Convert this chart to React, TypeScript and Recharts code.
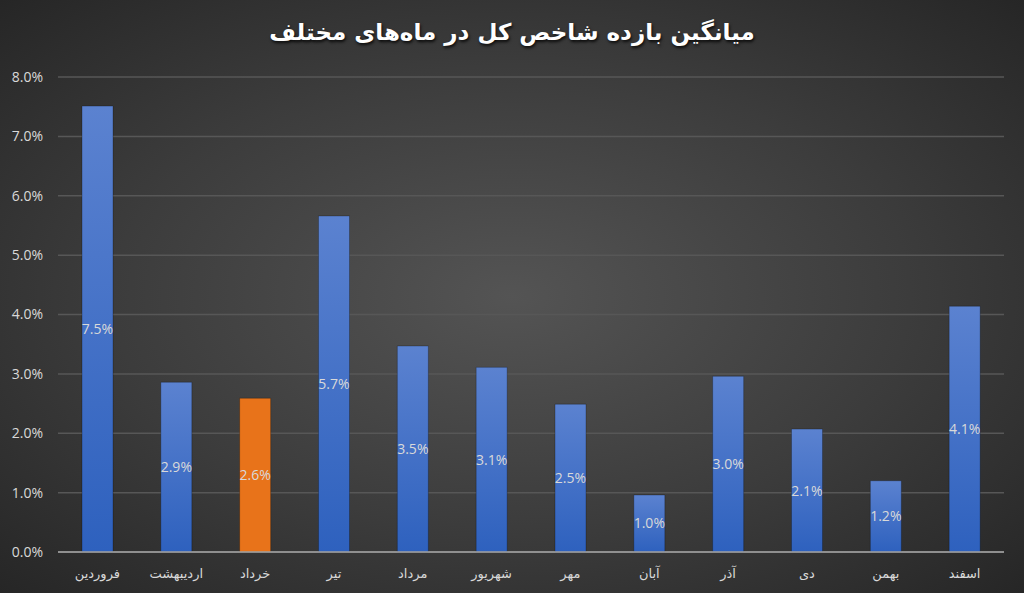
import { BarChart, Bar, XAxis, YAxis, CartesianGrid, LabelList, Cell } from 'recharts';

// ماه‌های سال و میانگین بازده شاخص کل
const months = [
  'فروردین', 'اردیبهشت', 'خرداد', 'تیر', 'مرداد', 'شهریور',
  'مهر', 'آبان', 'آذر', 'دی', 'بهمن', 'اسفند',
];
const returns = [0.0751, 0.0286, 0.0259, 0.0566, 0.0347, 0.0311, 0.0249, 0.0096, 0.0296, 0.0207, 0.012, 0.0414];
const yTicks = [0, 0.01, 0.02, 0.03, 0.04, 0.05, 0.06, 0.07, 0.08];
const highlightIndex = 2;

const data = months.map((month, i) => ({ month, value: returns[i] }));

const pct = (v: number) => `${(v * 100).toFixed(1)}%`;

export default function App() {
  return (
    <div
      style={{
        position: 'absolute',
        left: 0,
        top: 0,
        width: 1024,
        height: 593,
        background: 'radial-gradient(ellipse at 50% 50%, #545454 0%, #3c3c3c 55%, #262626 100%)',
        overflow: 'hidden',
      }}
    >
      <div
        dir="rtl"
        style={{
          position: 'absolute',
          top: 19,
          left: 0,
          width: 1024,
          textAlign: 'center',
          fontFamily: '"DejaVu Sans", sans-serif',
          fontWeight: 'bold',
          fontSize: 23,
          color: '#ffffff',
          textShadow: '1px 2px 3px rgba(0,0,0,0.8)',
        }}
      >
        میانگین بازده شاخص کل در ماه‌های مختلف
      </div>
      <BarChart
        width={1024}
        height={593}
        data={data}
        margin={{ top: 77, right: 20, left: 0, bottom: 0 }}
        barSize={31}
      >
        <defs>
          <linearGradient id="blueFill" x1="0" y1="0" x2="0" y2="1">
            <stop offset="0%" stopColor="#5b82d0" />
            <stop offset="100%" stopColor="#2e61be" />
          </linearGradient>
        </defs>
        <CartesianGrid vertical={false} stroke="#575757" strokeWidth={1.5} />
        <XAxis
          dataKey="month"
          height={41}
          tickLine={false}
          axisLine={{ stroke: '#a6a6a6', strokeWidth: 1.5 }}
          tickMargin={11}
          interval={0}
          tick={{ fill: '#d9d9d9', fontSize: 13, fontFamily: '"DejaVu Sans", sans-serif' }}
        />
        <YAxis
          width={58}
          domain={[0, 0.08]}
          ticks={yTicks}
          tickFormatter={pct}
          axisLine={false}
          tickLine={false}
          tickMargin={9}
          tick={{ fill: '#d9d9d9', fontSize: 14, fontFamily: '"Open Sans", sans-serif' }}
        />
        <Bar dataKey="value" isAnimationActive={false} stroke="rgba(0,0,0,0.25)" strokeWidth={1}>
          {data.map((_, i) => (
            <Cell key={i} fill={i === highlightIndex ? '#e8731a' : 'url(#blueFill)'} />
          ))}
          <LabelList
            dataKey="value"
            position="center"
            formatter={(v: any) => pct(Number(v))}
            fill="#d9d9d9"
            fontSize={14}
            fontFamily='"Open Sans", sans-serif'
          />
        </Bar>
      </BarChart>
    </div>
  );
}
